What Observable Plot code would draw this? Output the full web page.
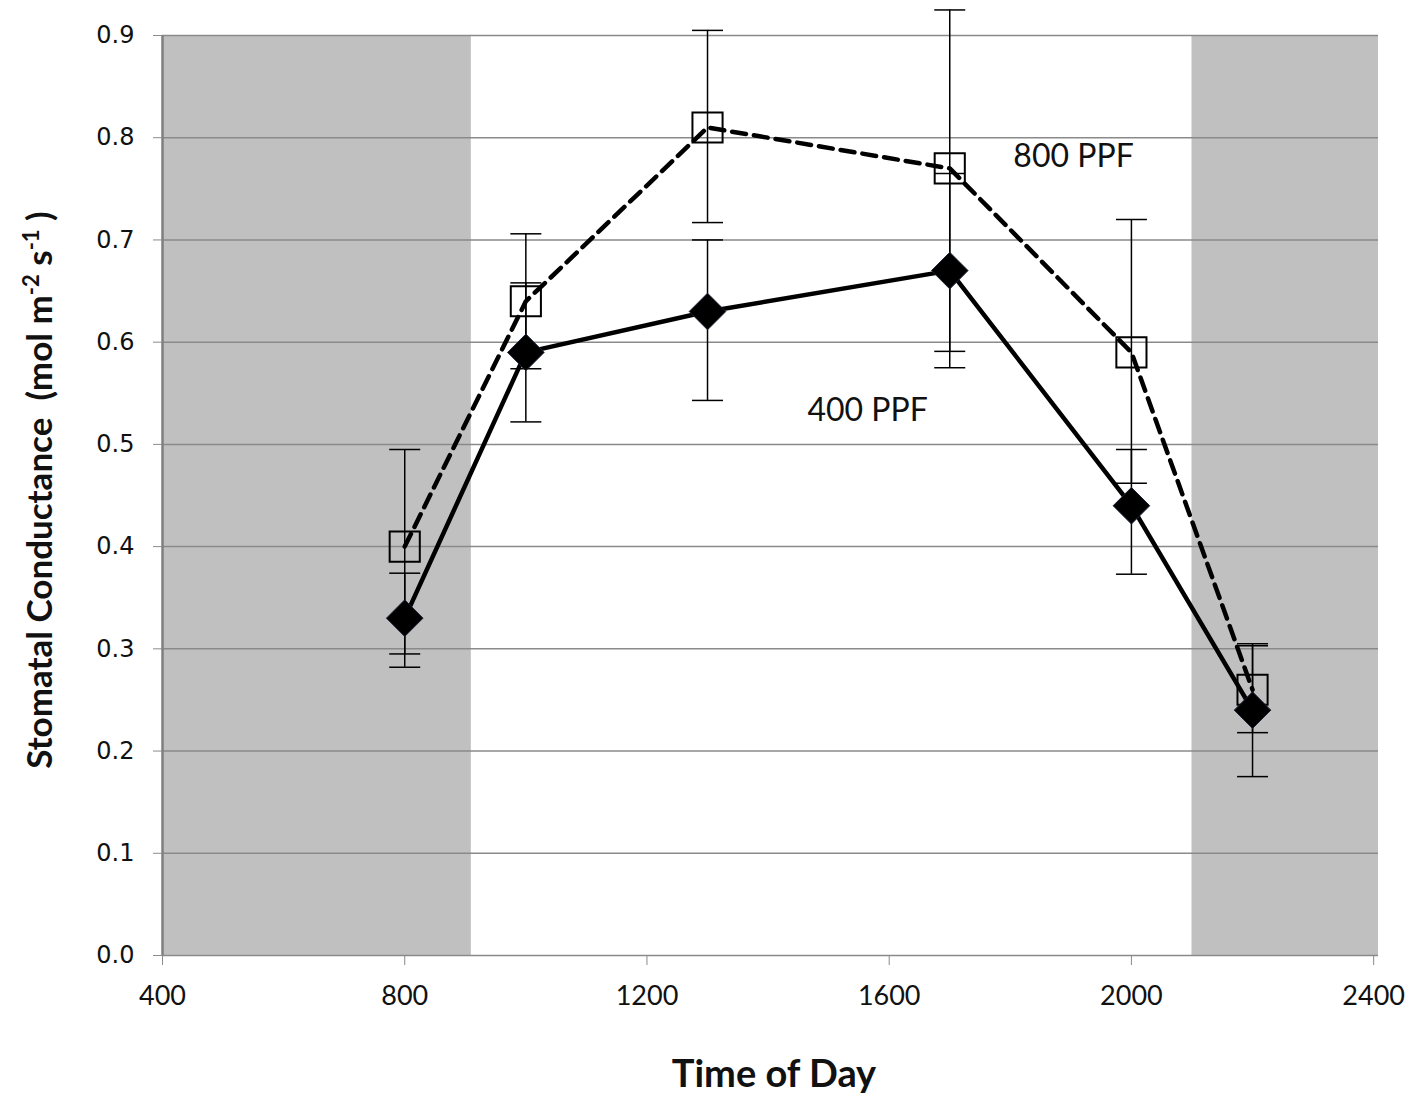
<!DOCTYPE html>
<html>
<head>
<meta charset="utf-8">
<script src="https://cdn.jsdelivr.net/npm/d3@7"></script>
<script src="https://cdn.jsdelivr.net/npm/@observablehq/plot@0.6"></script>
<style>
  html, body { margin: 0; padding: 0; background: #ffffff; }
  #chart svg { display: block; }
</style>
</head>
<body>
<div id="chart"></div>
<script>
// ---- data ----
const times = [800, 1000, 1300, 1700, 2000, 2200];

const ppf400 = [0.33, 0.59, 0.63, 0.67, 0.44, 0.24];
const ppf400Low = [0.282, 0.522, 0.543, 0.575, 0.373, 0.175];
const ppf400High = [0.374, 0.658, 0.700, 0.765, 0.495, 0.305];

const ppf800 = [0.40, 0.64, 0.81, 0.77, 0.59, 0.26];
const ppf800Low = [0.295, 0.574, 0.717, 0.591, 0.462, 0.218];
const ppf800High = [0.495, 0.706, 0.905, 0.925, 0.720, 0.303];

// dark (lights-off) periods, time of day
const darkStart = [400, 2100];
const darkEnd = [910, 2408];

const xTicks = [400, 800, 1200, 1600, 2000, 2400];
const yTicks = [0, 0.1, 0.2, 0.3, 0.4, 0.5, 0.6, 0.7, 0.8, 0.9];

const seriesLabels = ["800 PPF", "400 PPF"];
const labelTimes = [1805, 1465];
const labelValues = [0.781, 0.533];

// ---- tables built from the arrays ----
const s400 = times.map((t, i) => ({t, v: ppf400[i], lo: ppf400Low[i], hi: ppf400High[i]}));
const s800 = times.map((t, i) => ({t, v: ppf800[i], lo: ppf800Low[i], hi: ppf800High[i]}));
const dark = darkStart.map((s, i) => ({x1: s, x2: darkEnd[i]}));
const labels = seriesLabels.map((l, i) => ({l, t: labelTimes[i], v: labelValues[i]}));

// horizontal cap symbol for error bars
const capSymbol = {
  draw(context, size) {
    const r = Math.sqrt(size / Math.PI);
    context.moveTo(-r, 0);
    context.lineTo(r, 0);
  }
};

function errorMarks(data) {
  return [
    Plot.ruleX(data, {x: "t", y1: "lo", y2: "hi", stroke: "#000", strokeWidth: 1.5}),
    Plot.dot(data, {x: "t", y: "lo", symbol: capSymbol, r: 15.5, stroke: "#000", strokeWidth: 1.5, fill: "none"}),
    Plot.dot(data, {x: "t", y: "hi", symbol: capSymbol, r: 15.5, stroke: "#000", strokeWidth: 1.5, fill: "none"})
  ];
}

const chart = Plot.plot({
  width: 1417,
  height: 1102,
  marginLeft: 162,
  marginRight: 39,
  marginTop: 35,
  marginBottom: 147,
  style: {background: "#ffffff", overflow: "visible"},
  x: {domain: [400, 2408]},
  y: {domain: [0, 0.9]},
  marks: [
    Plot.rectY(dark, {x1: "x1", x2: "x2", y1: 0, y2: 0.9, fill: "#c0c0c0"}),
    Plot.ruleY(yTicks, {stroke: "#8a8a8a", strokeWidth: 1.5}),
    Plot.ruleX([400], {stroke: "#7f7f7f", strokeWidth: 2.5}),
    Plot.axisY({ticks: yTicks, tickSize: 9, tickPadding: 19, tickFormat: d => d.toFixed(1),
      fontSize: 24, fontFamily: "DejaVu Sans", stroke: "#8a8a8a", fill: "#111", label: null}),
    Plot.axisX({ticks: xTicks, tickSize: 10, tickPadding: 20, tickFormat: d => String(d),
      fontSize: 27, fontFamily: "Lato", stroke: "#8a8a8a", fill: "#111", label: null}),
    ...errorMarks(s800),
    ...errorMarks(s400),
    Plot.line(s800, {x: "t", y: "v", stroke: "#000", strokeWidth: 4.5, strokeDasharray: "14,8"}),
    Plot.line(s400, {x: "t", y: "v", stroke: "#000", strokeWidth: 4.5}),
    Plot.dot(s800, {x: "t", y: "v", symbol: "square", r: 17, stroke: "#000", strokeWidth: 2, fill: "none"}),
    Plot.dot(s400, {x: "t", y: "v", symbol: "diamond2", r: 16.5, fill: "#000", stroke: "#1b2233", strokeWidth: 1}),
    Plot.text(labels, {x: "t", y: "v", text: "l", textAnchor: "start", fontSize: 32,
      fontFamily: "Lato", fill: "#111"})
  ]
});

const svg = d3.select(chart);

// y-axis title with superscripts
const yTitle = svg.append("text")
  .attr("transform", "translate(52,490) rotate(-90)")
  .attr("text-anchor", "middle")
  .attr("font-family", "Lato")
  .attr("font-weight", "bold")
  .attr("font-size", 35)
  .attr("fill", "#111");
yTitle.append("tspan").text("Stomatal Conductance\u00a0 (mol m");
yTitle.append("tspan").attr("dy", -13).attr("font-size", 22).text("-2");
yTitle.append("tspan").attr("dy", 13).text(" s");
yTitle.append("tspan").attr("dy", -13).attr("font-size", 22).text("-1");
yTitle.append("tspan").attr("dy", 13).text(" )");

// x-axis title
svg.append("text")
  .attr("x", 774)
  .attr("y", 1087)
  .attr("text-anchor", "middle")
  .attr("font-family", "Lato")
  .attr("font-weight", "bold")
  .attr("font-size", 38)
  .attr("fill", "#111")
  .text("Time of Day");

document.getElementById("chart").appendChild(chart);
</script>
</body>
</html>
